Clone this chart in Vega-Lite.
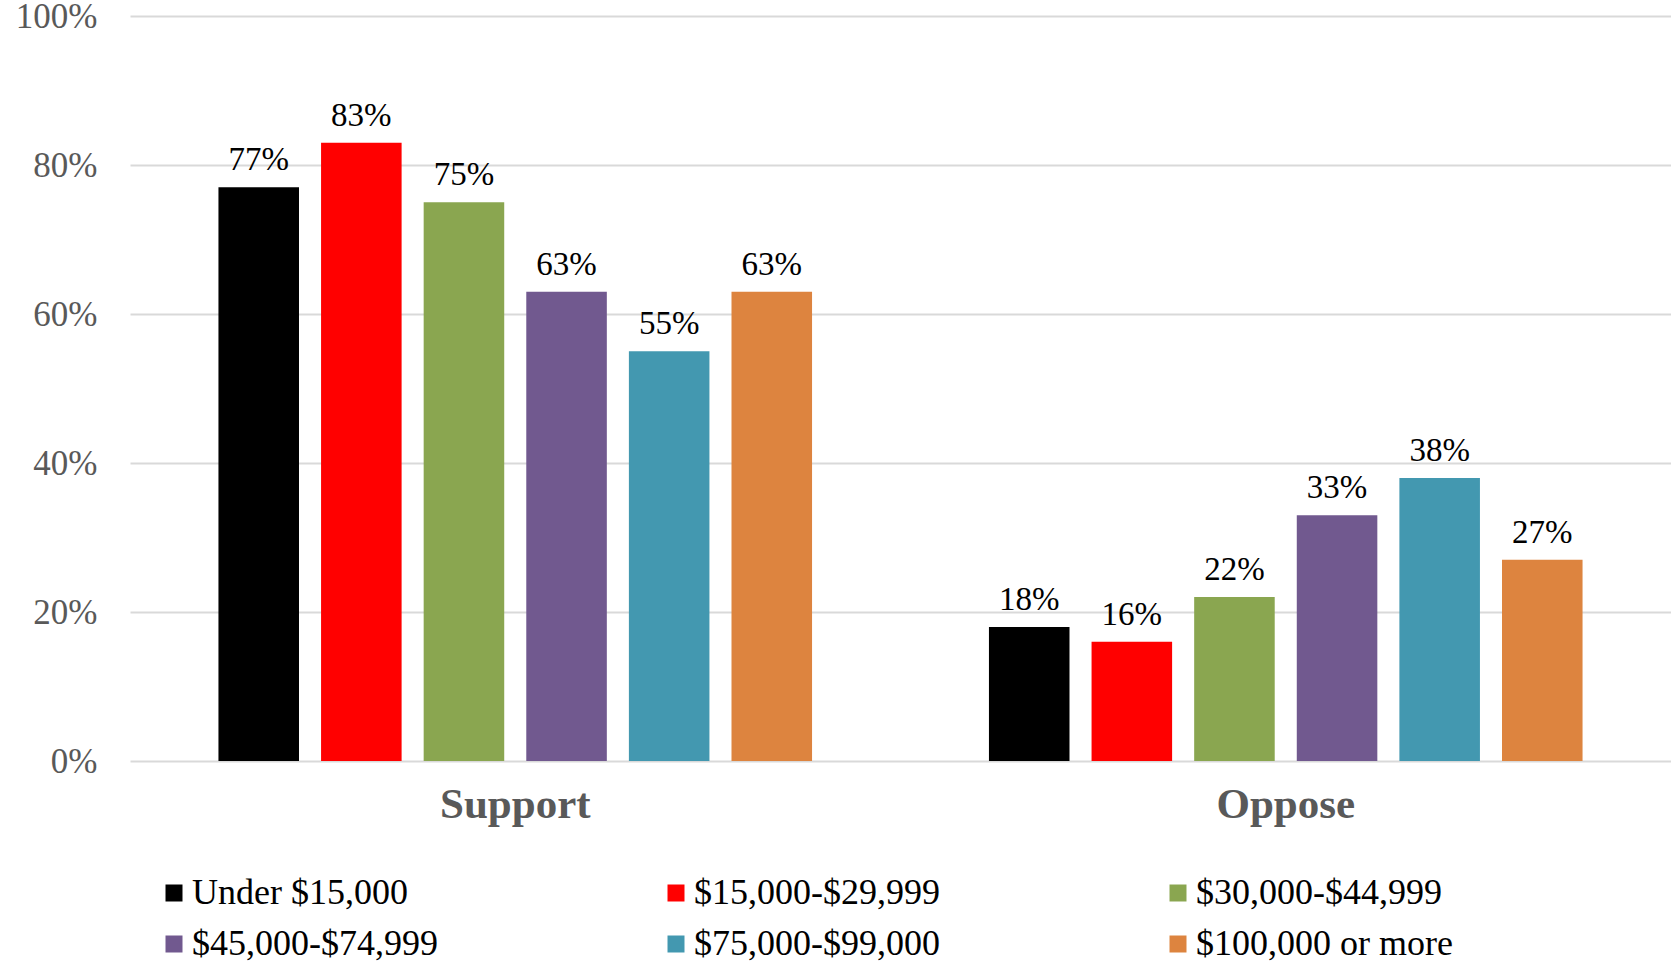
{
  "$schema": "https://vega.github.io/schema/vega-lite/v6.json",
  "autosize": {"type": "none"},
  "width": 1541,
  "height": 745,
  "padding": {"left": 130, "top": 16, "right": 0, "bottom": 205},
  "background": "white",
  "config": {
    "view": {"stroke": null},
    "font": "Liberation Serif"
  },
  "data": {
    "values": [
      {"stance": "Support", "income": "Under $15,000", "pct": 0.77},
      {"stance": "Support", "income": "$15,000-$29,999", "pct": 0.83},
      {"stance": "Support", "income": "$30,000-$44,999", "pct": 0.75},
      {"stance": "Support", "income": "$45,000-$74,999", "pct": 0.63},
      {"stance": "Support", "income": "$75,000-$99,000", "pct": 0.55},
      {"stance": "Support", "income": "$100,000 or more", "pct": 0.63},
      {"stance": "Oppose", "income": "Under $15,000", "pct": 0.18},
      {"stance": "Oppose", "income": "$15,000-$29,999", "pct": 0.16},
      {"stance": "Oppose", "income": "$30,000-$44,999", "pct": 0.22},
      {"stance": "Oppose", "income": "$45,000-$74,999", "pct": 0.33},
      {"stance": "Oppose", "income": "$75,000-$99,000", "pct": 0.38},
      {"stance": "Oppose", "income": "$100,000 or more", "pct": 0.27}
    ]
  },
  "encoding": {
    "x": {
      "field": "stance", "type": "nominal", "sort": ["Support", "Oppose"],
      "scale": {"paddingInner": 0, "paddingOuter": 0},
      "axis": {
        "title": null, "domain": false, "ticks": false, "labelAngle": 0,
        "labelFont": "Liberation Serif", "labelFontSize": 43, "labelFontWeight": "bold",
        "labelColor": "#595959", "labelPadding": 22
      }
    },
    "xOffset": {
      "field": "income", "type": "nominal",
      "sort": ["Under $15,000", "$15,000-$29,999", "$30,000-$44,999", "$45,000-$74,999", "$75,000-$99,000", "$100,000 or more"],
      "scale": {"paddingInner": 0.215, "paddingOuter": 0.862}
    },
    "y": {
      "field": "pct", "type": "quantitative",
      "scale": {"domain": [0, 1], "nice": false},
      "axis": {
        "title": null, "domain": false, "ticks": false,
        "values": [0, 0.2, 0.4, 0.6, 0.8, 1],
        "format": ".0%", "grid": true, "gridColor": "#d9d9d9", "gridWidth": 2,
        "labelFont": "Liberation Serif", "labelFontSize": 35, "labelColor": "#595959",
        "labelPadding": 33
      }
    }
  },
  "layer": [
    {
      "mark": {"type": "bar"},
      "encoding": {
        "color": {
          "field": "income", "type": "nominal",
          "scale": {
            "domain": ["Under $15,000", "$15,000-$29,999", "$30,000-$44,999", "$45,000-$74,999", "$75,000-$99,000", "$100,000 or more"],
            "range": ["#000000", "#ff0000", "#8aa650", "#71598f", "#4398b0", "#dd843f"]
          },
          "legend": {
            "title": null, "orient": "none", "legendX": 26, "legendY": 859,
            "direction": "horizontal", "columns": 3, "gridAlign": "all",
            "columnPadding": 209, "rowPadding": 15, "padding": 0,
            "symbolType": "square", "symbolSize": 289, "symbolStrokeWidth": 0,
            "labelFont": "Liberation Serif", "labelFontSize": 36, "labelColor": "#000000",
            "labelOffset": 0, "labelLimit": 500
          }
        }
      }
    },
    {
      "mark": {"type": "text", "baseline": "alphabetic", "dy": -17, "font": "Liberation Serif", "fontSize": 33, "color": "#000000"},
      "encoding": {
        "text": {"field": "pct", "type": "quantitative", "format": ".0%"}
      }
    }
  ]
}
